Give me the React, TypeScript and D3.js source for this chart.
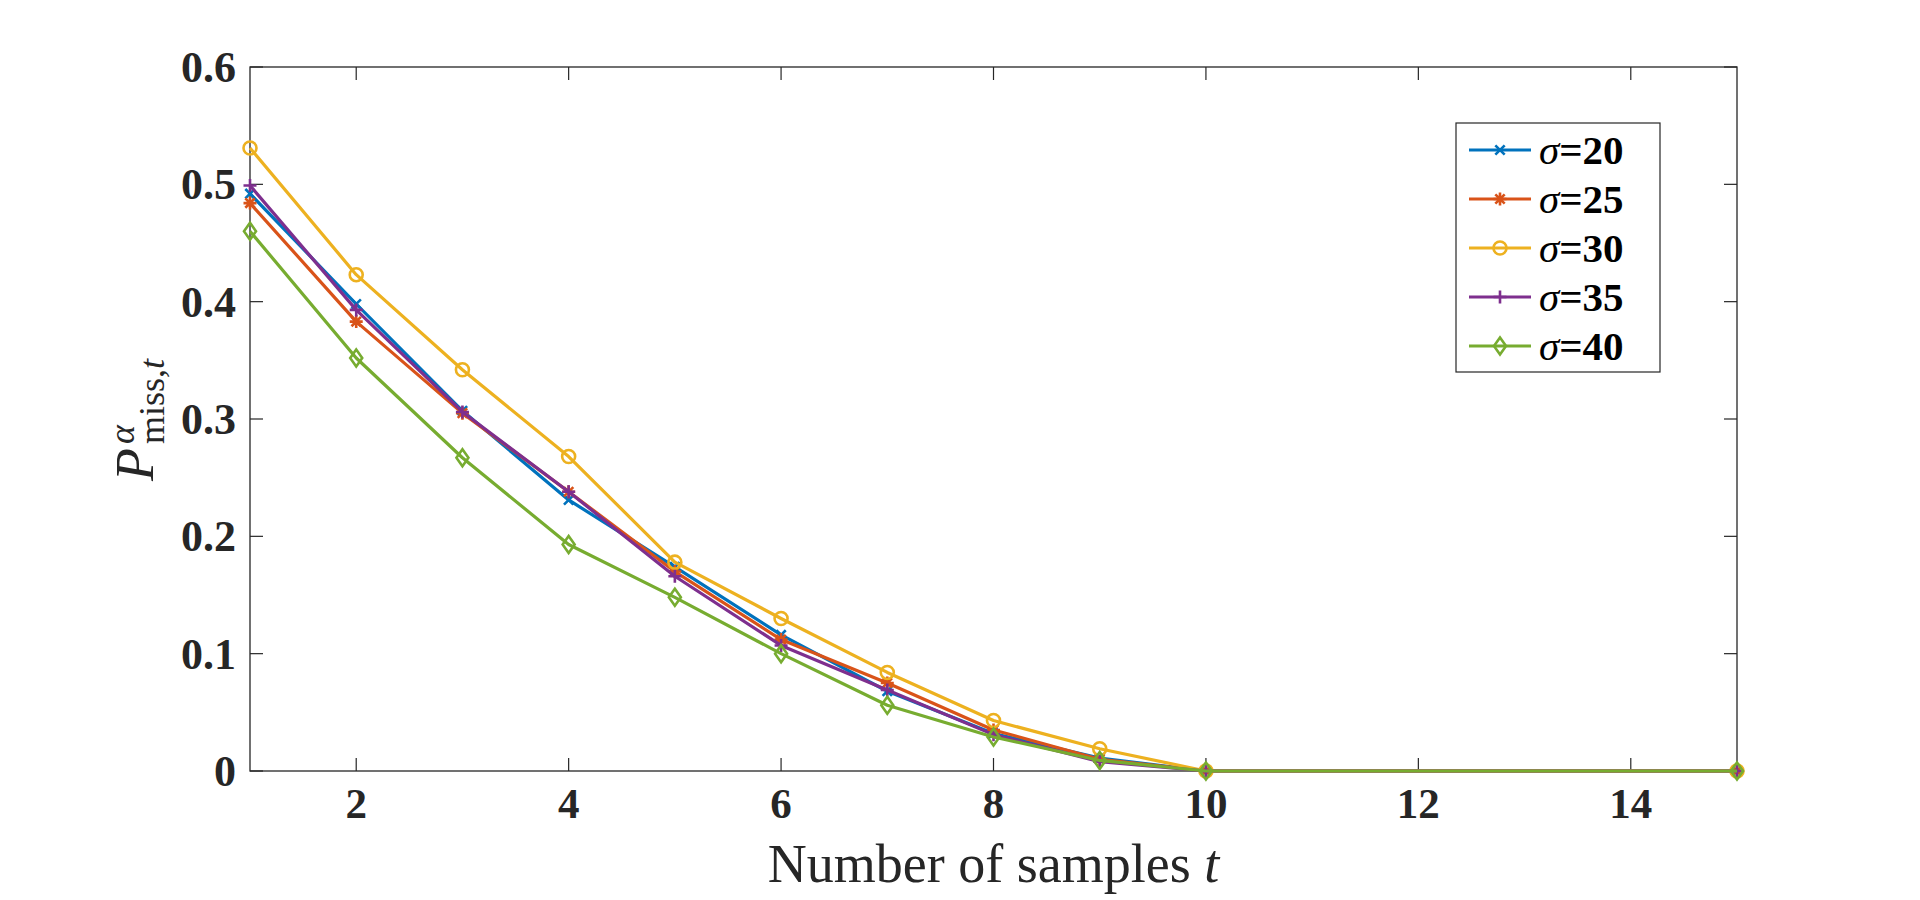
import React from 'react';
import * as d3 from 'd3';

// samples t (markers at 1..10 and at 15)
const samples = [1, 2, 3, 4, 5, 6, 7, 8, 9, 10, 15];

const sigma20 = [0.492, 0.398, 0.307, 0.231, 0.174, 0.116, 0.068, 0.032, 0.011, 0, 0];
const sigma25 = [0.484, 0.383, 0.305, 0.238, 0.170, 0.112, 0.075, 0.035, 0.010, 0, 0];
const sigma30 = [0.531, 0.423, 0.342, 0.268, 0.178, 0.130, 0.084, 0.043, 0.019, 0, 0];
const sigma35 = [0.499, 0.393, 0.306, 0.238, 0.166, 0.107, 0.069, 0.031, 0.008, 0, 0];
const sigma40 = [0.460, 0.352, 0.267, 0.193, 0.148, 0.100, 0.056, 0.029, 0.009, 0, 0];

const seriesNames = ['20', '25', '30', '35', '40'];
const xTicks = [2, 4, 6, 8, 10, 12, 14];
const yTicks = [0, 0.1, 0.2, 0.3, 0.4, 0.5, 0.6];

const colors = ['#0072BD', '#D95319', '#EDB120', '#7E2F8E', '#77AC30'];
const markers = ['x', 'asterisk', 'circle', 'plus', 'diamond'];

const margin = { left: 250, right: 1737, top: 67, bottom: 771 };
const axisColor = '#262626';
const serif = '"Liberation Serif", "DejaVu Serif", "Times New Roman", serif';

function markerPath(kind: string): string {
  const s = 6.5;
  const d = s * 0.72;
  switch (kind) {
    case 'x':
      return `M${-d},${-d}L${d},${d}M${-d},${d}L${d},${-d}`;
    case 'plus':
      return `M${-s},0H${s}M0,${-s}V${s}`;
    case 'asterisk':
      return `M${-s},0H${s}M0,${-s}V${s}M${-d},${-d}L${d},${d}M${-d},${d}L${d},${-d}`;
    case 'diamond':
      return `M0,-8.5L6,0L0,8.5L-6,0Z`;
    default:
      return d3.arc()({ innerRadius: 0, outerRadius: 6.5, startAngle: 0, endAngle: 2 * Math.PI }) || '';
  }
}

const App: React.FC = () => {
  const allSeries = [sigma20, sigma25, sigma30, sigma35, sigma40];

  const x = d3.scaleLinear().domain([1, 15]).range([margin.left, margin.right]);
  const y = d3.scaleLinear().domain([0, 0.6]).range([margin.bottom, margin.top]);

  const line = d3.line<number>()
    .x((_, i) => x(samples[i]))
    .y(d => y(d));

  const tickLen = 13;
  const lineW = 3.2;
  const markW = 2.6;

  // legend
  const lg = { x: 1456, y: 123, w: 204, h: 249, row0: 150, rowStep: 49 };

  return (
    <svg width={1920} height={900} style={{ position: 'absolute', left: 0, top: 0, background: '#fff' }}>
      <rect x={0} y={0} width={1920} height={900} fill="#fff" />

      {/* axes box */}
      <rect
        x={margin.left}
        y={margin.top}
        width={margin.right - margin.left}
        height={margin.bottom - margin.top}
        fill="none"
        stroke={axisColor}
        strokeWidth={1.3}
      />

      {/* x ticks */}
      {xTicks.map(t => (
        <g key={t}>
          <line x1={x(t)} x2={x(t)} y1={margin.bottom} y2={margin.bottom - tickLen} stroke={axisColor} strokeWidth={1.2} />
          <line x1={x(t)} x2={x(t)} y1={margin.top} y2={margin.top + tickLen} stroke={axisColor} strokeWidth={1.2} />
          <text x={x(t)} y={818} textAnchor="middle" fontFamily={serif} fontWeight="bold" fontSize={43} fill={axisColor}>
            {t}
          </text>
        </g>
      ))}

      {/* y ticks */}
      {yTicks.map(t => (
        <g key={t}>
          <line x1={margin.left} x2={margin.left + tickLen} y1={y(t)} y2={y(t)} stroke={axisColor} strokeWidth={1.2} />
          <line x1={margin.right} x2={margin.right - tickLen} y1={y(t)} y2={y(t)} stroke={axisColor} strokeWidth={1.2} />
          <text x={236} y={y(t) + 15} textAnchor="end" fontFamily={serif} fontWeight="bold" fontSize={44} fill={axisColor}>
            {t === 0 ? '0' : d3.format('.1f')(t)}
          </text>
        </g>
      ))}

      {/* series */}
      {allSeries.map((vals, si) => (
        <g key={si}>
          <path d={line(vals) || ''} fill="none" stroke={colors[si]} strokeWidth={lineW} strokeLinejoin="round" />
          {vals.map((v, i) => (
            <path
              key={i}
              d={markerPath(markers[si])}
              transform={`translate(${x(samples[i])},${y(v)})`}
              fill="none"
              stroke={colors[si]}
              strokeWidth={markW}
            />
          ))}
        </g>
      ))}

      {/* x label */}
      <text x={(margin.left + margin.right) / 2} y={882} textAnchor="middle" fontFamily={serif} fontSize={54} fill={axisColor}>
        Number of samples <tspan fontStyle="italic">t</tspan>
      </text>

      {/* y label */}
      <g transform="translate(153,481) rotate(-90)">
        <text x={0} y={0} fontFamily={serif} fontSize={54} fill={axisColor}>
          <tspan fontStyle="italic">P</tspan>
          <tspan x={37} dy={-19} fontSize={36} fontStyle="italic">α</tspan>
          <tspan x={37} dy={30} fontSize={36}>miss,</tspan>
          <tspan fontSize={36} fontStyle="italic">t</tspan>
        </text>
      </g>

      {/* legend */}
      <rect x={lg.x} y={lg.y} width={lg.w} height={lg.h} fill="#fff" stroke={axisColor} strokeWidth={1.2} />
      {seriesNames.map((name, i) => {
        const ry = lg.row0 + i * lg.rowStep;
        return (
          <g key={name}>
            <line x1={1469} x2={1531} y1={ry} y2={ry} stroke={colors[i]} strokeWidth={lineW} />
            <path d={markerPath(markers[i])} transform={`translate(1500,${ry})`} fill="none" stroke={colors[i]} strokeWidth={markW} />
            <text x={1539} y={ry + 14} fontFamily={serif} fontSize={41} fill="#000">
              <tspan fontStyle="italic">σ</tspan>
              <tspan fontWeight="bold">={name}</tspan>
            </text>
          </g>
        );
      })}
    </svg>
  );
};

export default App;
